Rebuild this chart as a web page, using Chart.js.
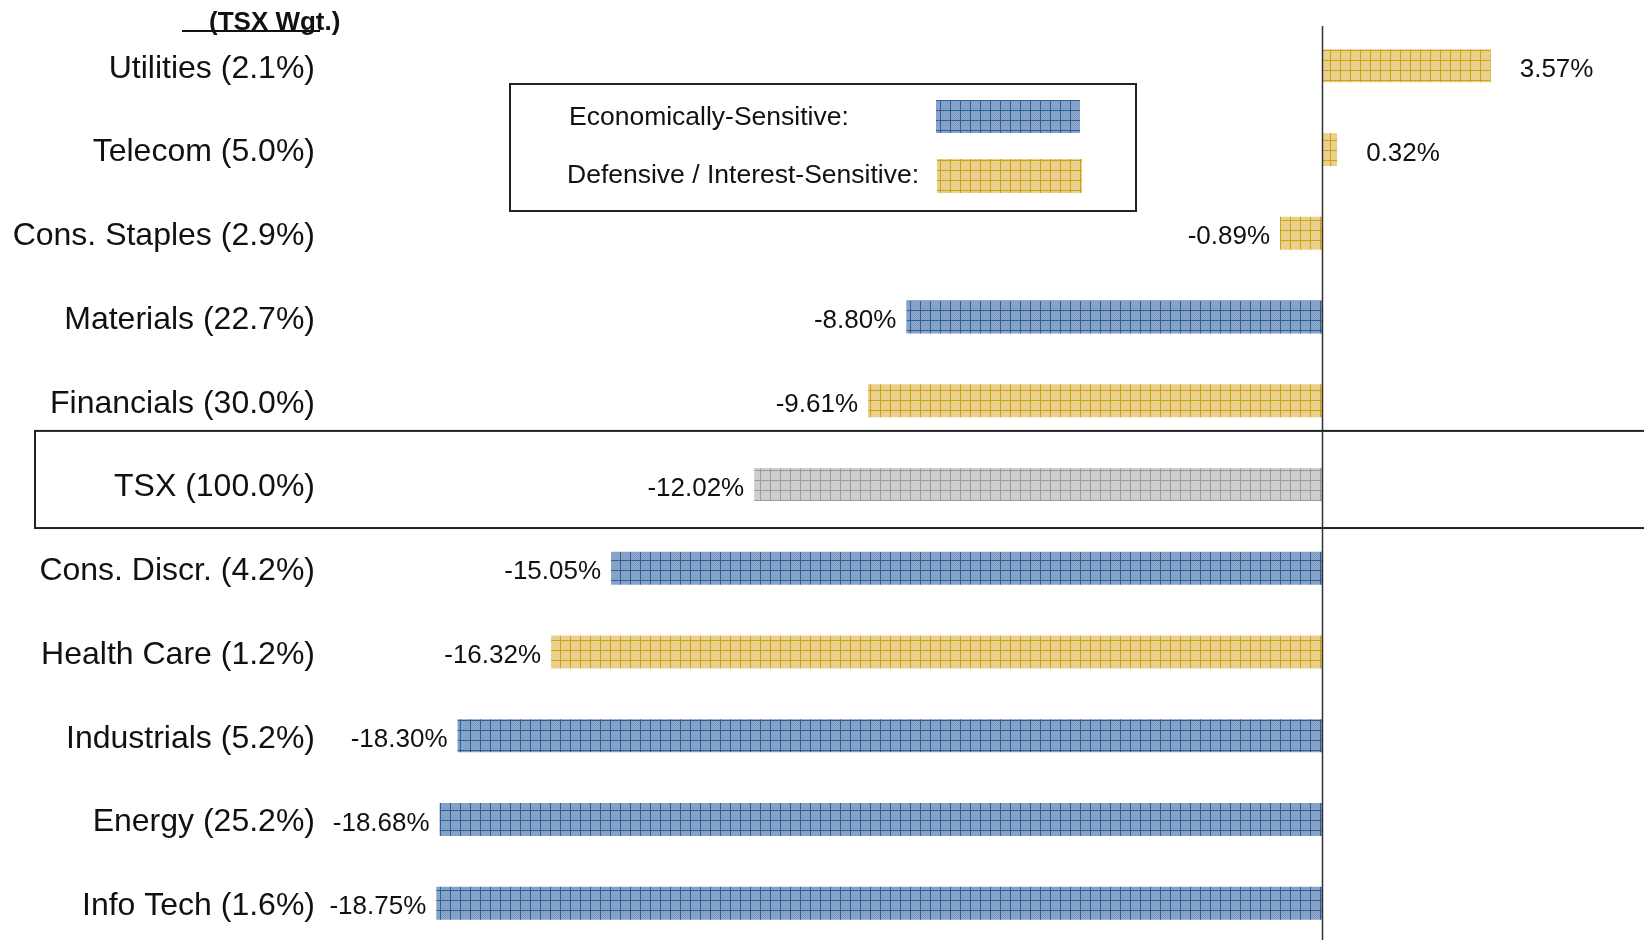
<!DOCTYPE html>
<html>
<head>
<meta charset="utf-8">
<script src="https://cdn.jsdelivr.net/npm/chart.js@4/dist/chart.umd.min.js"></script>
<style>
  html, body { margin: 0; padding: 0; background: #fff; overflow: hidden; }
  #wrap { width: 1644px; height: 940px; overflow: hidden; }
  canvas { display: block; }
</style>
</head>
<body>
<div id="wrap"><canvas id="c" width="1644" height="946"></canvas></div>
<script>
// Sector returns, with TSX weights shown in the labels
const sectors = ['Utilities', 'Telecom', 'Cons. Staples', 'Materials', 'Financials', 'TSX',
                 'Cons. Discr.', 'Health Care', 'Industrials', 'Energy', 'Info Tech'];
const weights = [2.1, 5.0, 2.9, 22.7, 30.0, 100.0, 4.2, 1.2, 5.2, 25.2, 1.6];
const returns = [3.57, 0.32, -0.89, -8.80, -9.61, -12.02, -15.05, -16.32, -18.30, -18.68, -18.75];
// 'E' = economically-sensitive, 'D' = defensive / interest-sensitive, 'I' = index
const groups = ['D', 'D', 'D', 'E', 'D', 'I', 'E', 'D', 'E', 'E', 'E'];
const legendLabels = ['Economically-Sensitive:', 'Defensive / Interest-Sensitive:'];
const headerText = '(TSX Wgt.)';

const labels = sectors.map((s, i) => `${s} (${weights[i].toFixed(1)}%)`);

const FONT = "'Liberation Sans', Arial, sans-serif";
const canvas = document.getElementById('c');
const ctx = canvas.getContext('2d');

// Hatched grid fill: dithered base with thin darker grid lines
function makePattern(a, b, line) {
  const p = document.createElement('canvas');
  p.width = 10; p.height = 10;
  const g = p.getContext('2d');
  for (let y = 0; y < 10; y++) {
    for (let x = 0; x < 10; x++) {
      g.fillStyle = (x + y) % 2 ? a : b;
      g.fillRect(x, y, 1, 1);
    }
  }
  g.fillStyle = line;
  g.fillRect(0, 0, 10, 1);
  g.fillRect(0, 0, 1, 10);
  return ctx.createPattern(p, 'repeat');
}
const patterns = {
  E: makePattern('#8eaacc', '#7c9ac0', '#2e5f9a'),
  D: makePattern('#eed898', '#e4c97f', '#cfa11a'),
  I: makePattern('#d5d5d5', '#c6c6c6', '#9c9c9c')
};

const decorations = {
  id: 'decorations',
  beforeDatasetsDraw(chart) {
    const c = chart.ctx, y = chart.scales.y;
    const W = chart.width;
    c.save();
    // boxed index row
    const idx = groups.indexOf('I');
    const pitch = y.getPixelForValue(1) - y.getPixelForValue(0);
    const cy = y.getPixelForValue(idx);
    const top = cy - 0.64 * pitch, bottom = cy + 0.52 * pitch;
    c.strokeStyle = '#222';
    c.lineWidth = 2;
    c.strokeRect(35, top, W + 20, bottom - top);
    c.restore();
  },
  afterDatasetsDraw(chart) {
    const c = chart.ctx, x = chart.scales.x;
    const area = chart.chartArea;
    c.save();
    // zero line
    const x0 = Math.round(x.getPixelForValue(0)) + 0.5;
    c.strokeStyle = '#333';
    c.lineWidth = 1.5;
    c.beginPath();
    c.moveTo(x0, area.top + 2);
    c.lineTo(x0, chart.height);
    c.stroke();

    // value labels
    const meta = chart.getDatasetMeta(0);
    c.font = `26px ${FONT}`;
    c.fillStyle = '#111';
    c.textBaseline = 'middle';
    meta.data.forEach((bar, i) => {
      const v = returns[i];
      const txt = v.toFixed(2) + '%';
      if (v >= 0) {
        c.textAlign = 'left';
        c.fillText(txt, bar.x + 29, bar.y + 4);
      } else {
        c.textAlign = 'right';
        c.fillText(txt, bar.x - 10, bar.y + 4);
      }
    });

    // header over the category labels
    c.font = `bold 26px ${FONT}`;
    c.textAlign = 'left';
    c.textBaseline = 'alphabetic';
    c.fillText(headerText, 209, 30);
    c.fillStyle = '#111';
    c.fillRect(182, 30, 138, 2);

    // legend box
    c.strokeStyle = '#222';
    c.lineWidth = 2;
    c.strokeRect(510, 84, 626, 127);
    c.font = `26.5px ${FONT}`;
    c.textBaseline = 'middle';
    c.fillStyle = '#111';
    c.fillText(legendLabels[0], 569, 118);
    c.fillText(legendLabels[1], 567, 176);
    c.fillStyle = patterns.E;
    c.fillRect(936, 100, 144, 33);
    c.fillStyle = patterns.D;
    c.fillRect(937, 159, 145, 34);
    c.restore();
  }
};

new Chart(canvas, {
  type: 'bar',
  data: {
    labels: labels,
    datasets: [{
      data: returns,
      backgroundColor: groups.map(g => patterns[g]),
      borderWidth: 0,
      barPercentage: 0.394,
      categoryPercentage: 1
    }]
  },
  options: {
    indexAxis: 'y',
    responsive: false,
    animation: false,
    devicePixelRatio: 1,
    layout: { padding: { top: 24, bottom: 1, left: 0, right: 0 } },
    plugins: { legend: { display: false }, tooltip: { enabled: false } },
    scales: {
      x: {
        display: false,
        min: -21,
        max: 6.815
      },
      y: {
        afterFit(scale) {
          scale.width = 330;
          scale.paddingTop = 0;
          scale.paddingBottom = 0;
        },
        grid: { display: false, drawTicks: false },
        border: { display: false },
        ticks: {
          padding: 15,
          labelOffset: 3,
          color: '#111',
          font: { family: FONT, size: 32 }
        }
      }
    }
  },
  plugins: [decorations]
});
</script>
</body>
</html>
